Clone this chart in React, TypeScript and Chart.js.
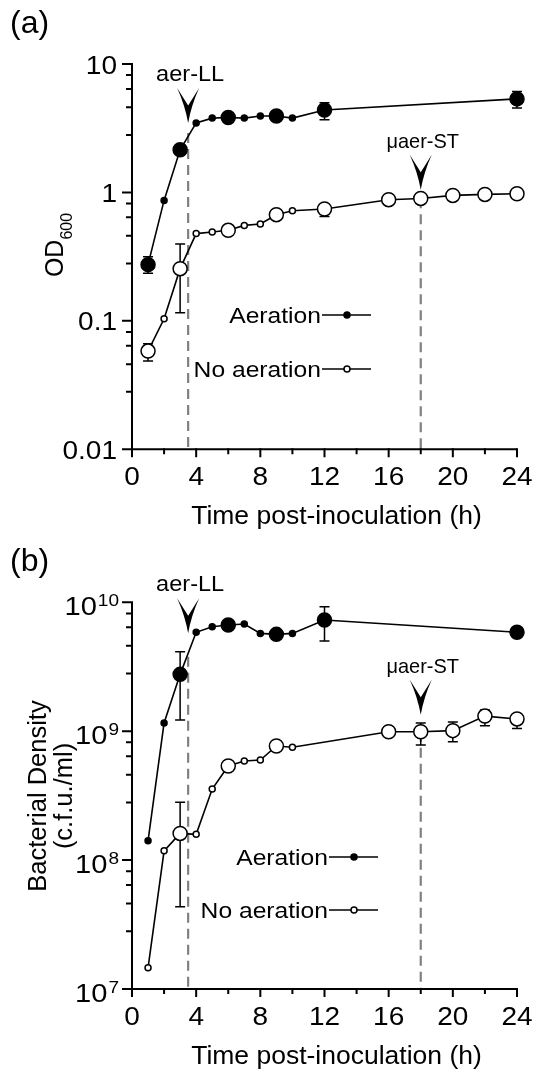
import { useEffect, useRef } from "react";
import { Chart, registerables } from "chart.js";

Chart.register(...registerables);

const FONT = '"Liberation Sans", Arial, Helvetica, sans-serif';

// ---------- Panel (a): OD600 ----------
const odHoursAeration = [1, 2, 3, 4, 5, 6, 7, 8, 9, 10, 12, 24];
const odAeration = [0.274, 0.867, 2.15, 3.48, 3.79, 3.83, 3.79, 3.94, 3.94, 3.79, 4.39, 5.35];
const odAerationLow = [0.235, null, 2.05, null, null, 3.72, null, null, 3.82, null, 3.68, 4.55];
const odAerationHigh = [0.315, null, 2.25, null, null, 3.95, null, null, 4.05, null, 5.0, 6.1];

const odHoursNoAeration = [1, 2, 3, 4, 5, 6, 7, 8, 9, 10, 12, 16, 18, 20, 22, 24];
const odNoAeration = [0.0582, 0.1038, 0.255, 0.478, 0.492, 0.507, 0.554, 0.568, 0.671, 0.721, 0.743, 0.878, 0.898, 0.948, 0.965, 0.977];
const odNoAerationLow = [0.0486, null, 0.1156, null, null, 0.49, null, null, 0.65, null, 0.651, 0.86, 0.875, 0.93, 0.945, 0.955];
const odNoAerationHigh = [0.0664, null, 0.397, null, null, 0.525, null, null, 0.69, null, 0.8, 0.9, 0.92, 0.97, 0.985, 1.0];

// ---------- Panel (b): bacterial density ----------
const cfuHoursAeration = [1, 2, 3, 4, 5, 6, 7, 8, 9, 10, 12, 24];
const cfuAeration = [1.41e8, 1.16e9, 2.76e9, 5.85e9, 6.47e9, 6.67e9, 6.79e9, 5.74e9, 5.64e9, 5.74e9, 7.29e9, 5.85e9];
const cfuAerationLow = [null, null, 1.22e9, null, null, 6.3e9, null, null, 5.3e9, null, 5.0e9, 5.5e9];
const cfuAerationHigh = [null, null, 4.14e9, null, null, 7.0e9, null, null, 6.0e9, null, 9.25e9, 6.2e9];

const cfuHoursNoAeration = [1, 2, 3, 4, 5, 6, 7, 8, 9, 10, 16, 18, 20, 22, 24];
const cfuNoAeration = [1.46e7, 1.18e8, 1.61e8, 1.585e8, 3.56e8, 5.37e8, 5.87e8, 5.98e8, 7.68e8, 7.5e8, 9.91e8, 9.91e8, 1.01e9, 1.31e9, 1.245e9];
const cfuNoAerationLow = [null, null, 4.35e7, null, null, 5.1e8, null, null, 7.3e8, null, 9.5e8, 7.8e8, 8.3e8, 1.1e9, 1.05e9];
const cfuNoAerationHigh = [null, null, 2.81e8, null, null, 5.6e8, null, null, 8.0e8, null, 1.03e9, 1.16e9, 1.18e9, 1.46e9, 1.32e9];

// ---------- axes / annotations ----------
const timeTicks = [0, 2, 4, 6, 8, 10, 12, 14, 16, 18, 20, 22, 24];
const timeTickLabels = ["0", "", "4", "", "8", "", "12", "", "16", "", "20", "", "24"];
const odDecades = [0.01, 0.1, 1, 10];
const odDecadeLabels = ["0.01", "0.1", "1", "10"];
const cfuDecades = [1e7, 1e8, 1e9, 1e10];
const cfuExponents = ["7", "8", "9", "10"];
const minorSteps = [2.8, 4.6, 6.4, 8.2];
const seriesLabels = ["Aeration", "No aeration"];
const eventTimes = [3.5, 18];
const eventLabels = ["aer-LL", "\u03bcaer-ST"];
const odEventTips = [3.48, 1.05];
const odDashFrom = [2.9, 0.9];
const cfuEventTips = [5.75e9, 1.34e9];
const cfuDashFrom = [3.78e9, 9.9e8];

type Series = {
  label: string;
  hours: number[];
  values: number[];
  low: (number | null)[];
  high: (number | null)[];
  filled: boolean;
};

type PanelProps = {
  panelLabel: string;
  series: Series[];
  yMin: number;
  yMax: number;
  decades: number[];
  decadeLabels: string[];
  superscript: boolean;
  yTitle: string[];
  subscript?: string;
  eventTips: number[];
  dashFrom: number[];
  legendX: number;
  legendY: number[];
  yTitleX: number[];
  yTitleCenter: number;
  padTop: number;
  padBottom: number;
};

function drawText(
  ctx: CanvasRenderingContext2D,
  s: string,
  x: number,
  y: number,
  size: number,
  align: CanvasTextAlign = "left",
  sx = 1
) {
  ctx.save();
  ctx.font = `${size}px ${FONT}`;
  ctx.textAlign = align;
  ctx.textBaseline = "alphabetic";
  ctx.fillStyle = "#000";
  ctx.translate(x, y);
  ctx.scale(sx, 1);
  ctx.fillText(s, 0, 0);
  ctx.restore();
}

function measure(ctx: CanvasRenderingContext2D, s: string, size: number, sx = 1) {
  ctx.save();
  ctx.font = `${size}px ${FONT}`;
  const w = ctx.measureText(s).width * sx;
  ctx.restore();
  return w;
}

function arrowhead(ctx: CanvasRenderingContext2D, x: number, tipY: number, w = 22, h = 35) {
  ctx.save();
  ctx.fillStyle = "#000";
  ctx.beginPath();
  ctx.moveTo(x, tipY);
  ctx.quadraticCurveTo(x - w * 0.14, tipY - h * 0.5, x - w / 2, tipY - h);
  ctx.lineTo(x, tipY - h * 0.5);
  ctx.lineTo(x + w / 2, tipY - h);
  ctx.quadraticCurveTo(x + w * 0.14, tipY - h * 0.5, x, tipY);
  ctx.closePath();
  ctx.fill();
  ctx.restore();
}

const TICK_SIZE = 25;
const TICK_SX = 1.12;
const EVENT_LABEL_STYLE = [
  { size: 22, sx: 1.07 },
  { size: 21, sx: 0.95 },
];

function Panel(props: PanelProps) {
  const ref = useRef<HTMLCanvasElement | null>(null);

  useEffect(() => {
    const canvas = ref.current;
    if (!canvas) return;

    const overlay = {
      id: "panelOverlay",
      beforeDatasetsDraw(chart: any) {
        const ctx: CanvasRenderingContext2D = chart.ctx;
        const xs = chart.scales.x;
        const ys = chart.scales.y;
        // dashed event lines
        ctx.save();
        ctx.strokeStyle = "#808080";
        ctx.lineWidth = 2.2;
        ctx.setLineDash([10, 6]);
        eventTimes.forEach((t, i) => {
          const px = xs.getPixelForValue(t);
          ctx.beginPath();
          ctx.moveTo(px, ys.getPixelForValue(props.dashFrom[i]));
          ctx.lineTo(px, ys.bottom);
          ctx.stroke();
        });
        ctx.restore();
        // error bars
        ctx.save();
        ctx.strokeStyle = "#000";
        ctx.lineWidth = 1.5;
        props.series.forEach((s) => {
          s.hours.forEach((h, i) => {
            const lo = s.low[i];
            const hi = s.high[i];
            if (lo == null || hi == null) return;
            const px = xs.getPixelForValue(h);
            const y1 = ys.getPixelForValue(lo);
            const y2 = ys.getPixelForValue(hi);
            ctx.beginPath();
            ctx.moveTo(px, y1);
            ctx.lineTo(px, y2);
            ctx.moveTo(px - 5, y1);
            ctx.lineTo(px + 5, y1);
            ctx.moveTo(px - 5, y2);
            ctx.lineTo(px + 5, y2);
            ctx.stroke();
          });
        });
        ctx.restore();
      },
      afterDatasetsDraw(chart: any) {
        const ctx: CanvasRenderingContext2D = chart.ctx;
        const xs = chart.scales.x;
        const ys = chart.scales.y;
        const left = xs.getPixelForValue(timeTicks[0]);
        const right = xs.getPixelForValue(timeTicks[timeTicks.length - 1]);
        const bottom = ys.getPixelForValue(props.yMin);
        const top = ys.getPixelForValue(props.yMax);

        ctx.save();
        ctx.strokeStyle = "#000";
        ctx.lineWidth = 2;
        ctx.lineCap = "butt";
        // axes
        ctx.beginPath();
        ctx.moveTo(left, top);
        ctx.lineTo(left, bottom);
        ctx.moveTo(left, bottom);
        ctx.lineTo(right, bottom);
        ctx.stroke();
        // x ticks
        ctx.beginPath();
        timeTicks.forEach((t, i) => {
          const px = xs.getPixelForValue(t);
          const len = timeTickLabels[i] ? 8 : 5;
          ctx.moveTo(px, bottom - 1);
          ctx.lineTo(px, bottom + len);
        });
        // y ticks
        props.decades.forEach((d, i) => {
          const py = ys.getPixelForValue(d);
          ctx.moveTo(left + 1, py);
          ctx.lineTo(left - 10, py);
          if (i < props.decades.length - 1) {
            minorSteps.forEach((m) => {
              const pm = ys.getPixelForValue(d * m);
              ctx.moveTo(left + 1, pm);
              ctx.lineTo(left - 6, pm);
            });
          }
        });
        ctx.stroke();
        ctx.restore();

        // x tick labels
        timeTicks.forEach((t, i) => {
          if (!timeTickLabels[i]) return;
          drawText(ctx, timeTickLabels[i], xs.getPixelForValue(t), bottom + 36, TICK_SIZE, "center", TICK_SX);
        });

        // y tick labels
        const R = left - 15;
        props.decades.forEach((d, i) => {
          const py = ys.getPixelForValue(d);
          if (props.superscript) {
            const supW = measure(ctx, props.decadeLabels[i], 17, TICK_SX);
            drawText(ctx, props.decadeLabels[i], R + 2, py + 4, 17, "right", TICK_SX);
            drawText(ctx, "10", R + 1 - supW, py + 13, 26, "right", TICK_SX);
          } else {
            drawText(ctx, props.decadeLabels[i], R, py + 9.5, TICK_SIZE, "right", TICK_SX);
          }
        });

        // x title
        drawText(ctx, "Time post-inoculation (h)", (left + right) / 2 + 12, bottom + 75, 26.5, "center");

        // y title (rotated)
        ctx.save();
        ctx.fillStyle = "#000";
        ctx.textBaseline = "alphabetic";
        if (props.subscript) {
          ctx.font = `25px ${FONT}`;
          const w1 = ctx.measureText(props.yTitle[0]).width;
          ctx.font = `16px ${FONT}`;
          const w2 = ctx.measureText(props.subscript).width;
          ctx.translate(props.yTitleX[0], props.yTitleCenter);
          ctx.rotate(-Math.PI / 2);
          ctx.textAlign = "left";
          ctx.font = `25px ${FONT}`;
          ctx.fillText(props.yTitle[0], -(w1 + w2) / 2, 0);
          ctx.font = `16px ${FONT}`;
          ctx.fillText(props.subscript, -(w1 + w2) / 2 + w1, 9);
        } else {
          props.yTitle.forEach((line, k) => {
            ctx.save();
            ctx.translate(props.yTitleX[k], props.yTitleCenter);
            ctx.rotate(-Math.PI / 2);
            ctx.textAlign = "center";
            ctx.font = `25.5px ${FONT}`;
            ctx.fillText(line, 0, 0);
            ctx.restore();
          });
        }
        ctx.restore();

        // event arrows + labels
        eventTimes.forEach((t, i) => {
          const px = xs.getPixelForValue(t);
          const tip = ys.getPixelForValue(props.eventTips[i]);
          arrowhead(ctx, px, tip, 22, 35);
          const st = EVENT_LABEL_STYLE[i];
          drawText(ctx, eventLabels[i], px + 2, tip - 35 - 7, st.size, "center", st.sx);
        });

        // legend
        props.series.forEach((s, k) => {
          const y = props.legendY[k];
          const x0 = props.legendX;
          drawText(ctx, s.label, x0 - 1, y + 8, 22, "right", 1.12);
          ctx.save();
          ctx.strokeStyle = "#000";
          ctx.lineWidth = 1.6;
          ctx.beginPath();
          ctx.moveTo(x0, y);
          ctx.lineTo(x0 + 49, y);
          ctx.stroke();
          ctx.beginPath();
          ctx.arc(x0 + 25, y, 3, 0, Math.PI * 2);
          ctx.fillStyle = s.filled ? "#000" : "#fff";
          ctx.fill();
          ctx.lineWidth = 1.5;
          ctx.stroke();
          ctx.restore();
        });

        // panel label
        drawText(ctx, props.panelLabel, 10, top - 31, 32, "left");
      },
    };

    const datasets = props.series.map((s) => ({
      label: s.label,
      data: s.hours.map((h, i) => ({ x: h, y: s.values[i] })),
      borderColor: "#000",
      borderWidth: 1.6,
      backgroundColor: s.filled ? "#000" : "#fff",
      pointBackgroundColor: s.filled ? "#000" : "#fff",
      pointBorderColor: "#000",
      pointBorderWidth: 1.5,
      pointRadius: (c: any) => (s.low[c.dataIndex] != null ? 7 : 3),
      pointHoverRadius: (c: any) => (s.low[c.dataIndex] != null ? 7 : 3),
      tension: 0,
      fill: false,
      clip: false,
    }));

    const chart = new Chart(canvas, {
      type: "line",
      data: { datasets },
      options: {
        animation: false,
        responsive: false,
        devicePixelRatio: 1,
        events: [],
        layout: {
          padding: { left: 132, right: 19, top: props.padTop, bottom: props.padBottom },
        },
        plugins: { legend: { display: false }, tooltip: { enabled: false } },
        scales: {
          x: {
            type: "linear",
            min: 0,
            max: 24,
            grid: { display: false, drawTicks: false },
            border: { display: false },
            ticks: { display: false },
            afterFit: (sc: any) => {
              sc.height = 0;
            },
          },
          y: {
            type: "logarithmic",
            min: props.yMin,
            max: props.yMax,
            grid: { display: false, drawTicks: false },
            border: { display: false },
            ticks: { display: false },
            afterFit: (sc: any) => {
              sc.width = 0;
            },
          },
        },
      },
      plugins: [overlay],
    } as any);

    return () => chart.destroy();
  }, []);

  return <canvas ref={ref} width={536} height={536} style={{ display: "block", width: 536, height: 536 }} />;
}

export default function App() {
  const odSeries: Series[] = [
    { label: seriesLabels[0], hours: odHoursAeration, values: odAeration, low: odAerationLow, high: odAerationHigh, filled: true },
    { label: seriesLabels[1], hours: odHoursNoAeration, values: odNoAeration, low: odNoAerationLow, high: odNoAerationHigh, filled: false },
  ];
  const cfuSeries: Series[] = [
    { label: seriesLabels[0], hours: cfuHoursAeration, values: cfuAeration, low: cfuAerationLow, high: cfuAerationHigh, filled: true },
    { label: seriesLabels[1], hours: cfuHoursNoAeration, values: cfuNoAeration, low: cfuNoAerationLow, high: cfuNoAerationHigh, filled: false },
  ];
  return (
    <div style={{ position: "absolute", left: 0, top: 0, width: 536, height: 1072, background: "#fff" }}>
      <Panel
        panelLabel="(a)"
        series={odSeries}
        yMin={odDecades[0]}
        yMax={odDecades[odDecades.length - 1]}
        decades={odDecades}
        decadeLabels={odDecadeLabels}
        superscript={false}
        yTitle={["OD"]}
        subscript="600"
        eventTips={odEventTips}
        dashFrom={odDashFrom}
        legendX={322}
        legendY={[315, 369]}
        yTitleX={[63]}
        yTitleCenter={245}
        padTop={64}
        padBottom={86.7}
      />
      <Panel
        panelLabel="(b)"
        series={cfuSeries}
        yMin={cfuDecades[0]}
        yMax={cfuDecades[cfuDecades.length - 1]}
        decades={cfuDecades}
        decadeLabels={cfuExponents}
        superscript={true}
        yTitle={["Bacterial Density", "(c.f.u./ml)"]}
        eventTips={cfuEventTips}
        dashFrom={cfuDashFrom}
        legendX={329}
        legendY={[321, 374]}
        yTitleX={[46, 72]}
        yTitleCenter={260}
        padTop={66.3}
        padBottom={83}
      />
    </div>
  );
}
